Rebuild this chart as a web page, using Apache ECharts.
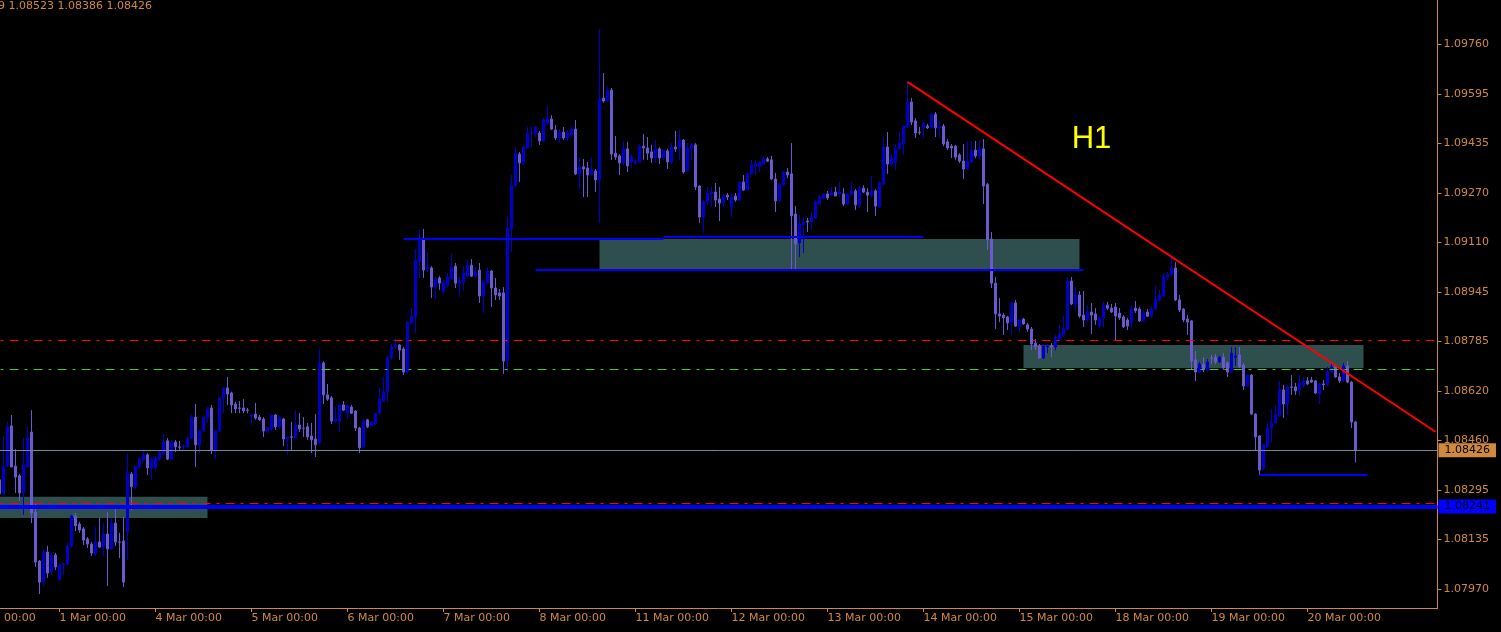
<!DOCTYPE html>
<html><head><meta charset="utf-8">
<script src="https://cdn.jsdelivr.net/npm/echarts@6/dist/echarts.min.js"></script>
<style>html,body{margin:0;padding:0;background:#000;}#c{width:1501px;height:632px;}</style>
</head><body><div id="c"></div>
<script>
// ---------- data ----------
const dayLabels = ['29 Feb','1 Mar','4 Mar','5 Mar','6 Mar','7 Mar','8 Mar','11 Mar','12 Mar','13 Mar','14 Mar','15 Mar','18 Mar','19 Mar','20 Mar'];
const shiftSlots = ['+1','+2','+3','+4','+5','+6','+7','+8','+9'];
const firstCandle = '29 Feb 09:00';
const yTicks = [1.07970,1.08135,1.08295,1.08460,1.08620,1.08785,1.08945,1.09110,1.09270,1.09435,1.09595,1.09760];
const headerText = '9 1.08523 1.08386 1.08426';

const open = [
1.08329,1.08283,1.08374,1.08506,1.08374,1.08342,1.08286,1.08371,1.08486,1.08223,
1.08062,1.07993,1.08092,1.08026,1.08082,1.08000,1.08049,1.08053,1.08112,1.08210,
1.08184,1.08168,1.08135,1.08118,1.08085,1.08125,1.08108,1.08151,1.08102,1.08187,
1.08125,1.08128,1.08158,1.08348,1.08306,1.08371,1.08394,1.08411,1.08368,1.08368,
1.08397,1.08414,1.08457,1.08397,1.08453,1.08437,1.08437,1.08437,1.08466,1.08535,
1.08444,1.08489,1.08535,1.08565,1.08424,1.08489,1.08598,1.08631,1.08614,1.08578,
1.08565,1.08565,1.08558,1.08539,1.08545,1.08535,1.08529,1.08489,1.08496,1.08542,
1.08503,1.08529,1.08463,1.08470,1.08466,1.08509,1.08499,1.08503,1.08473,1.08463,
1.08450,1.08713,1.08608,1.08598,1.08522,1.08522,1.08575,1.08548,1.08568,1.08555,
1.08499,1.08437,1.08526,1.08506,1.08512,1.08548,1.08588,1.08618,1.08729,1.08765,
1.08772,1.08759,1.08683,1.08844,1.08864,1.09044,1.09123,1.09021,1.09025,1.08962,
1.08992,1.08946,1.08969,1.08989,1.09031,1.08975,1.08979,1.08998,1.09034,1.08998,
1.09018,1.08933,1.08975,1.09015,1.08959,1.08943,1.08943,1.08719,1.09153,1.09294,
1.09399,1.09370,1.09419,1.09465,1.09468,1.09468,1.09442,1.09501,1.09514,1.09478,
1.09452,1.09471,1.09452,1.09462,1.09481,1.09334,1.09357,1.09353,1.09334,1.09343,
1.09314,1.09583,1.09573,1.09609,1.09402,1.09393,1.09370,1.09416,1.09373,1.09370,
1.09373,1.09425,1.09419,1.09406,1.09386,1.09416,1.09386,1.09409,1.09373,1.09422,
1.09419,1.09445,1.09343,1.09416,1.09429,1.09294,1.09192,1.09242,1.09268,1.09274,
1.09251,1.09238,1.09264,1.09225,1.09261,1.09248,1.09307,1.09281,1.09334,1.09360,
1.09357,1.09366,1.09383,1.09380,1.09317,1.09245,1.09297,1.09340,1.09334,1.09202,
1.09107,1.09166,1.09179,1.09176,1.09189,1.09235,1.09255,1.09268,1.09264,1.09274,
1.09268,1.09268,1.09235,1.09268,1.09278,1.09232,1.09287,1.09274,1.09264,1.09278,
1.09225,1.09300,1.09422,1.09366,1.09373,1.09416,1.09432,1.09488,1.09570,1.09508,
1.09471,1.09485,1.09491,1.09485,1.09530,1.09485,1.09491,1.09439,1.09425,1.09425,
1.09396,1.09376,1.09350,1.09373,1.09412,1.09393,1.09416,1.09300,1.09120,1.08975,
1.08874,1.08870,1.08864,1.08847,1.08910,1.08831,1.08857,1.08838,1.08824,1.08778,
1.08769,1.08729,1.08765,1.08769,1.08765,1.08791,1.08805,1.08824,1.08982,1.08907,
1.08936,1.08870,1.08854,1.08880,1.08874,1.08834,1.08861,1.08903,1.08893,1.08897,
1.08877,1.08864,1.08854,1.08847,1.08893,1.08890,1.08851,1.08880,1.08867,1.08890,
1.08920,1.08933,1.08995,1.09005,1.09025,1.08920,1.08890,1.08857,1.08851,1.08723,
1.08683,1.08709,1.08690,1.08729,1.08732,1.08716,1.08732,1.08713,1.08683,1.08732,
1.08739,1.08706,1.08637,1.08673,1.08545,1.08473,1.08365,1.08437,1.08499,1.08516,
1.08539,1.08624,1.08578,1.08634,1.08634,1.08624,1.08641,1.08654,1.08657,1.08654,
1.08611,1.08644,1.08641,1.08683,1.08700,1.08667,1.08654,1.08703,1.08650,1.08519];

const high = [
1.08374,1.08473,1.08519,1.08542,1.08430,1.08348,1.08466,1.08503,1.08558,1.08250,
1.08066,1.08102,1.08112,1.08089,1.08089,1.08053,1.08056,1.08122,1.08214,1.08220,
1.08191,1.08174,1.08141,1.08125,1.08174,1.08204,1.08187,1.08223,1.08204,1.08246,
1.08155,1.08207,1.08417,1.08355,1.08374,1.08404,1.08430,1.08417,1.08404,1.08407,
1.08424,1.08480,1.08466,1.08460,1.08460,1.08457,1.08447,1.08473,1.08542,1.08578,
1.08493,1.08542,1.08568,1.08575,1.08489,1.08598,1.08634,1.08667,1.08618,1.08585,
1.08588,1.08594,1.08565,1.08545,1.08581,1.08542,1.08535,1.08503,1.08542,1.08545,
1.08539,1.08532,1.08470,1.08519,1.08558,1.08548,1.08535,1.08516,1.08516,1.08545,
1.08759,1.08719,1.08644,1.08604,1.08568,1.08581,1.08588,1.08578,1.08575,1.08558,
1.08503,1.08529,1.08529,1.08522,1.08548,1.08631,1.08667,1.08736,1.08775,1.08795,
1.08775,1.08765,1.08851,1.08893,1.09087,1.09150,1.09153,1.09077,1.09031,1.08995,
1.08998,1.08985,1.09008,1.09071,1.09041,1.08995,1.09031,1.09051,1.09054,1.09028,
1.09041,1.08985,1.09025,1.09018,1.08992,1.08956,1.08962,1.09192,1.09330,1.09419,
1.09406,1.09429,1.09488,1.09488,1.09491,1.09475,1.09517,1.09557,1.09527,1.09494,
1.09481,1.09488,1.09478,1.09491,1.09511,1.09389,1.09383,1.09373,1.09389,1.09350,
1.09810,1.09665,1.09619,1.09616,1.09458,1.09399,1.09439,1.09439,1.09399,1.09383,
1.09432,1.09465,1.09455,1.09429,1.09445,1.09422,1.09412,1.09416,1.09435,1.09475,
1.09478,1.09448,1.09435,1.09435,1.09435,1.09297,1.09248,1.09291,1.09291,1.09304,
1.09291,1.09268,1.09271,1.09271,1.09271,1.09310,1.09330,1.09340,1.09380,1.09380,
1.09376,1.09393,1.09389,1.09393,1.09337,1.09304,1.09343,1.09353,1.09435,1.09228,
1.09199,1.09192,1.09189,1.09209,1.09248,1.09264,1.09268,1.09278,1.09291,1.09291,
1.09307,1.09287,1.09271,1.09307,1.09284,1.09294,1.09297,1.09287,1.09327,1.09284,
1.09307,1.09455,1.09471,1.09399,1.09429,1.09471,1.09491,1.09636,1.09583,1.09517,
1.09488,1.09504,1.09498,1.09534,1.09537,1.09511,1.09498,1.09448,1.09432,1.09429,
1.09402,1.09432,1.09442,1.09442,1.09442,1.09445,1.09448,1.09304,1.09143,1.08995,
1.08926,1.08877,1.08867,1.08913,1.08920,1.08857,1.08861,1.08844,1.08831,1.08791,
1.08775,1.08775,1.08775,1.08778,1.08805,1.08838,1.08867,1.08995,1.08995,1.08962,
1.08949,1.08949,1.08903,1.08910,1.08893,1.08867,1.08913,1.08913,1.08907,1.08910,
1.08893,1.08870,1.08861,1.08903,1.08916,1.08897,1.08884,1.08890,1.08900,1.08966,
1.08953,1.09008,1.09012,1.09058,1.09044,1.08936,1.08893,1.08870,1.08854,1.08752,
1.08716,1.08732,1.08726,1.08739,1.08742,1.08736,1.08745,1.08719,1.08765,1.08765,
1.08765,1.08713,1.08677,1.08677,1.08548,1.08476,1.08447,1.08516,1.08562,1.08575,
1.08654,1.08641,1.08641,1.08673,1.08647,1.08673,1.08667,1.08667,1.08667,1.08657,
1.08647,1.08657,1.08700,1.08713,1.08703,1.08680,1.08713,1.08719,1.08654,1.08523];

const low = [
1.08279,1.08279,1.08371,1.08371,1.08286,1.08260,1.08214,1.08368,1.08187,1.08043,
1.07954,1.07980,1.08007,1.08016,1.08033,1.07997,1.08016,1.08046,1.08105,1.08161,
1.08155,1.08115,1.08105,1.08079,1.08079,1.08105,1.08079,1.07980,1.08099,1.08112,
1.08072,1.07977,1.08066,1.08230,1.08299,1.08365,1.08388,1.08345,1.08329,1.08361,
1.08391,1.08411,1.08394,1.08394,1.08420,1.08427,1.08427,1.08434,1.08463,1.08371,
1.08417,1.08486,1.08516,1.08414,1.08397,1.08486,1.08548,1.08575,1.08548,1.08548,
1.08548,1.08548,1.08548,1.08509,1.08526,1.08522,1.08470,1.08483,1.08489,1.08493,
1.08496,1.08440,1.08411,1.08424,1.08463,1.08486,1.08470,1.08460,1.08417,1.08404,
1.08447,1.08578,1.08588,1.08512,1.08516,1.08486,1.08555,1.08529,1.08545,1.08489,
1.08417,1.08434,1.08499,1.08503,1.08509,1.08545,1.08585,1.08585,1.08723,1.08759,
1.08723,1.08673,1.08677,1.08838,1.08811,1.08992,1.08992,1.09012,1.08926,1.08923,
1.08953,1.08939,1.08962,1.08985,1.08959,1.08930,1.08949,1.08995,1.08995,1.08992,
1.08910,1.08877,1.08972,1.08897,1.08920,1.08920,1.08677,1.08683,1.09077,1.09291,
1.09307,1.09363,1.09416,1.09419,1.09455,1.09429,1.09439,1.09494,1.09478,1.09445,
1.09435,1.09445,1.09439,1.09455,1.09330,1.09284,1.09258,1.09258,1.09327,1.09274,
1.09173,1.09567,1.09570,1.09380,1.09380,1.09330,1.09363,1.09340,1.09353,1.09363,
1.09370,1.09380,1.09380,1.09370,1.09370,1.09366,1.09380,1.09350,1.09366,1.09406,
1.09380,1.09334,1.09340,1.09380,1.09281,1.09173,1.09140,1.09232,1.09225,1.09225,
1.09179,1.09225,1.09248,1.09192,1.09242,1.09245,1.09278,1.09278,1.09330,1.09330,
1.09340,1.09363,1.09373,1.09314,1.09209,1.09242,1.09294,1.09320,1.09018,1.09018,
1.09061,1.09074,1.09143,1.09150,1.09186,1.09232,1.09251,1.09248,1.09261,1.09261,
1.09258,1.09228,1.09232,1.09261,1.09215,1.09222,1.09271,1.09209,1.09258,1.09196,
1.09222,1.09297,1.09334,1.09357,1.09347,1.09412,1.09396,1.09485,1.09494,1.09452,
1.09462,1.09452,1.09481,1.09481,1.09455,1.09452,1.09425,1.09412,1.09386,1.09380,
1.09370,1.09317,1.09347,1.09370,1.09386,1.09380,1.09235,1.09084,1.08959,1.08824,
1.08847,1.08805,1.08821,1.08805,1.08831,1.08815,1.08838,1.08815,1.08755,1.08755,
1.08726,1.08726,1.08745,1.08732,1.08755,1.08785,1.08798,1.08821,1.08903,1.08887,
1.08861,1.08831,1.08847,1.08808,1.08838,1.08828,1.08831,1.08887,1.08877,1.08788,
1.08854,1.08828,1.08821,1.08824,1.08877,1.08847,1.08847,1.08864,1.08861,1.08887,
1.08913,1.08930,1.08985,1.08998,1.08916,1.08880,1.08847,1.08805,1.08693,1.08654,
1.08677,1.08683,1.08683,1.08709,1.08709,1.08713,1.08690,1.08667,1.08680,1.08703,
1.08696,1.08624,1.08634,1.08542,1.08424,1.08345,1.08361,1.08434,1.08453,1.08512,
1.08535,1.08532,1.08542,1.08608,1.08608,1.08604,1.08631,1.08641,1.08647,1.08611,
1.08578,1.08624,1.08637,1.08680,1.08664,1.08647,1.08650,1.08647,1.08499,1.08386];

const close = [
1.08283,1.08374,1.08503,1.08371,1.08338,1.08286,1.08378,1.08466,1.08220,1.08059,
1.07993,1.08092,1.08023,1.08082,1.08043,1.08049,1.08053,1.08112,1.08210,1.08178,
1.08164,1.08131,1.08118,1.08089,1.08125,1.08108,1.08151,1.08102,1.08187,1.08125,
1.08124,1.07993,1.08352,1.08306,1.08374,1.08397,1.08411,1.08368,1.08397,1.08401,
1.08420,1.08453,1.08397,1.08453,1.08437,1.08436,1.08440,1.08466,1.08535,1.08444,
1.08489,1.08535,1.08562,1.08427,1.08489,1.08598,1.08631,1.08611,1.08575,1.08562,
1.08564,1.08555,1.08557,1.08542,1.08532,1.08526,1.08489,1.08499,1.08542,1.08503,
1.08535,1.08463,1.08470,1.08469,1.08509,1.08496,1.08498,1.08470,1.08460,1.08444,
1.08713,1.08608,1.08594,1.08522,1.08529,1.08575,1.08558,1.08572,1.08548,1.08499,
1.08434,1.08522,1.08503,1.08519,1.08548,1.08594,1.08618,1.08729,1.08765,1.08772,
1.08755,1.08683,1.08847,1.08867,1.09051,1.09123,1.09018,1.09028,1.08962,1.08989,
1.08975,1.08979,1.08995,1.09028,1.08975,1.08982,1.09008,1.09034,1.08998,1.09012,
1.08933,1.08979,1.09015,1.08959,1.08936,1.08933,1.08719,1.09156,1.09297,1.09402,
1.09370,1.09422,1.09468,1.09468,1.09488,1.09442,1.09511,1.09514,1.09481,1.09452,
1.09471,1.09452,1.09468,1.09481,1.09334,1.09357,1.09350,1.09330,1.09347,1.09314,
1.09580,1.09573,1.09609,1.09399,1.09389,1.09370,1.09416,1.09360,1.09389,1.09376,
1.09425,1.09419,1.09402,1.09386,1.09416,1.09386,1.09412,1.09373,1.09422,1.09416,
1.09445,1.09340,1.09419,1.09429,1.09291,1.09192,1.09242,1.09271,1.09274,1.09248,
1.09238,1.09261,1.09258,1.09258,1.09248,1.09307,1.09281,1.09334,1.09363,1.09366,
1.09373,1.09383,1.09376,1.09317,1.09245,1.09300,1.09340,1.09330,1.09196,1.09104,
1.09169,1.09176,1.09176,1.09192,1.09242,1.09258,1.09268,1.09255,1.09274,1.09261,
1.09274,1.09235,1.09268,1.09278,1.09232,1.09287,1.09274,1.09264,1.09278,1.09228,
1.09304,1.09422,1.09366,1.09386,1.09419,1.09435,1.09491,1.09570,1.09504,1.09468,
1.09470,1.09501,1.09485,1.09530,1.09485,1.09488,1.09432,1.09419,1.09419,1.09389,
1.09376,1.09350,1.09376,1.09412,1.09393,1.09416,1.09294,1.09117,1.08975,1.08874,
1.08867,1.08861,1.08844,1.08910,1.08834,1.08854,1.08841,1.08824,1.08775,1.08765,
1.08729,1.08769,1.08769,1.08765,1.08798,1.08808,1.08828,1.08982,1.08907,1.08936,
1.08867,1.08854,1.08880,1.08870,1.08854,1.08861,1.08903,1.08893,1.08880,1.08867,
1.08861,1.08831,1.08834,1.08890,1.08884,1.08851,1.08877,1.08866,1.08890,1.08923,
1.08936,1.08995,1.09005,1.09025,1.08920,1.08887,1.08854,1.08847,1.08719,1.08683,
1.08709,1.08690,1.08716,1.08728,1.08716,1.08732,1.08696,1.08683,1.08745,1.08736,
1.08700,1.08637,1.08673,1.08545,1.08470,1.08361,1.08444,1.08499,1.08516,1.08542,
1.08624,1.08578,1.08634,1.08633,1.08621,1.08647,1.08654,1.08644,1.08650,1.08614,
1.08644,1.08641,1.08683,1.08700,1.08667,1.08654,1.08703,1.08650,1.08519,1.08426];

// horizontal levels
const bidPrice = 1.08426;
const blueLevel = 1.08241;
const redLevel1 = 1.08787;
const greenLevel = 1.08693;
const redLevel2 = 1.08253;
// rectangles [fromTime, topPrice, toTime, bottomPrice]
const rects = [
  ['8 Mar 15:00', 1.09120, '15 Mar 15:00', 1.09018],
  ['15 Mar 01:00', 1.08772, '20 Mar 14:00', 1.08696],
  ['29 Feb 00:00', 1.08273, '4 Mar 13:00', 1.08204]
];
// blue segments [fromTime, toTime, price]
const segments = [
  ['6 Mar 14:00', '11 Mar 07:00', 1.09122],
  ['11 Mar 07:00', '14 Mar 00:00', 1.09126],
  ['7 Mar 23:00', '15 Mar 16:00', 1.09018],
  ['19 Mar 12:00', '20 Mar 15:00', 1.08347]
];
// trend line
const trendLine = [['13 Mar 20:00', 1.09636], ['+9', 1.08487]];
const labelH1 = ['15 Mar 18:00', 1.09448, 'H1'];

// ---------- build ----------
const categories = [];
dayLabels.forEach(d => { for (let h = 0; h < 24; h++) categories.push(d + ' ' + String(h).padStart(2, '0') + ':00'); });
shiftSlots.forEach(s => categories.push(s));
const i0 = categories.indexOf(firstCandle);
const candleData = categories.map(() => '-');
open.forEach((o, j) => { candleData[i0 + j] = [o, close[j], low[j], high[j]]; });

const axisColor = '#D08A40';
const font = 'DejaVu Sans';
const isDayStart = (i, v) => / 00:00$/.test(v);
const dashDot = [9, 6, 3, 6];
const boxLabel = (txt, bg) => ({ show: true, position: 'end', distance: 1, formatter: txt,
  backgroundColor: bg, color: '#000000', fontSize: 11, fontFamily: font, padding: [2, 6, 1, 6] });

const chart = echarts.init(document.getElementById('c'), null, { renderer: 'canvas' });
chart.setOption({
  backgroundColor: '#000000',
  animation: false,
  title: { text: headerText, left: -2, top: 1, padding: 0,
    textStyle: { color: axisColor, fontSize: 11, fontWeight: 'normal', fontFamily: font } },
  grid: { left: -38.5, right: 63.5, top: 0, bottom: 24, containLabel: false, outerBoundsMode: 'none' },
  xAxis: {
    type: 'category', data: categories, boundaryGap: true,
    axisLine: { show: true, lineStyle: { color: axisColor, width: 1 } },
    axisTick: { show: true, alignWithLabel: true, interval: isDayStart, length: 4, lineStyle: { color: axisColor } },
    axisLabel: { interval: isDayStart, align: 'left', color: axisColor, fontSize: 11, fontFamily: font, margin: 5 },
    splitLine: { show: false }
  },
  yAxis: {
    type: 'value', position: 'right', min: 1.07908, max: 1.09905,
    axisLine: { show: true, lineStyle: { color: axisColor, width: 1 } },
    axisTick: { show: true, length: 4, customValues: yTicks, lineStyle: { color: axisColor } },
    axisLabel: { customValues: yTicks, color: axisColor, fontSize: 11, fontFamily: font, margin: 6,
      formatter: v => v.toFixed(5) },
    splitLine: { show: false }
  },
  series: [
    {
      type: 'line', name: 'objects', data: [], z: 1, silent: true,
      markArea: {
        silent: true,
        itemStyle: { color: '#2F4F4F', opacity: 1 },
        data: rects.map(r => [{ coord: [r[0], r[1]] }, { coord: [r[2], r[3]] }])
      }
    },
    {
      type: 'candlestick', name: 'EURUSD,H1', data: candleData, z: 2,
      barWidth: 2, silent: true,
      itemStyle: { color: '#0000CD', color0: '#6A5ACD', borderColor: '#0000CD', borderColor0: '#6A5ACD',
        borderColorDoji: '#6A5ACD', borderWidth: 1 },
      markLine: {
        silent: true, symbol: ['none', 'none'], precision: 5,
        label: { show: false },
        data: [
          { yAxis: redLevel1, lineStyle: { color: '#FF0000', width: 1, type: dashDot } },
          { yAxis: greenLevel, lineStyle: { color: '#32CD32', width: 1, type: dashDot } },
          { yAxis: redLevel2, lineStyle: { color: '#FF0000', width: 1, type: dashDot } },
          { yAxis: bidPrice, lineStyle: { color: '#778899', width: 1, type: 'solid' },
            label: boxLabel(bidPrice.toFixed(5), axisColor) },
          { yAxis: blueLevel, lineStyle: { color: '#0000FF', width: 4, type: 'solid' },
            label: boxLabel(blueLevel.toFixed(5), '#0000FF') }
        ]
      }
    },
    {
      type: 'line', name: 'overlay', data: [], z: 5, silent: true,
      markLine: {
        silent: true, symbol: ['none', 'none'], precision: 5,
        label: { show: false },
        data: [
          ...segments.map(s => [
            { coord: [s[0], s[2]], lineStyle: { color: '#0000FF', width: 2, type: 'solid' } },
            { coord: [s[1], s[2]] }
          ]),
          [
            { coord: trendLine[0], lineStyle: { color: '#FF0000', width: 2, type: 'solid' } },
            { coord: trendLine[1] }
          ]
        ]
      },
      markPoint: {
        silent: true,
        data: [{ coord: [labelH1[0], labelH1[1]], symbol: 'rect', symbolSize: 1,
          itemStyle: { color: 'rgba(0,0,0,0)' },
          label: { show: true, position: 'inside', formatter: labelH1[2], color: '#FFFF00',
            fontSize: 31, fontFamily: 'Liberation Sans' } }]
      }
    }
  ]
});
</script>
</body></html>
